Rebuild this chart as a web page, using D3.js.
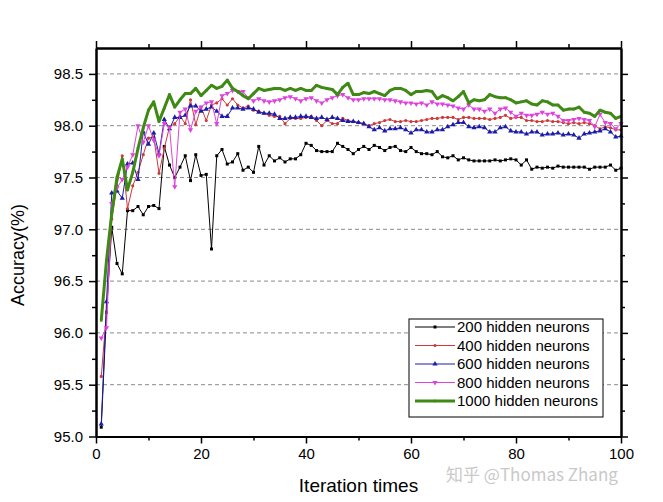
<!DOCTYPE html>
<html>
<head>
<meta charset="utf-8">
<script src="https://cdn.jsdelivr.net/npm/d3@7"></script>
<style>
  body { margin: 0; background: #fff; }
  text { font-family: Arial, "Liberation Sans", sans-serif; }
</style>
</head>
<body>
<div id="chart"></div>
<script>
// iteration index 1..100
const iterations = d3.range(1, 101);

const acc200 = [
  95.09, 96.20, 97.02, 96.67, 96.57, 97.18, 97.18, 97.22, 97.14, 97.22,
  97.23, 97.20, 97.80, 97.62, 97.50, 97.60, 97.71, 97.47, 97.72, 97.52,
  97.53, 96.81, 97.71, 97.77, 97.63, 97.65, 97.73, 97.57, 97.60, 97.55,
  97.80, 97.62, 97.71, 97.66, 97.69, 97.65, 97.68, 97.68, 97.72, 97.83,
  97.81, 97.76, 97.75, 97.75, 97.75, 97.83, 97.80, 97.77, 97.73, 97.77,
  97.80, 97.77, 97.81, 97.79, 97.76, 97.79, 97.80, 97.76, 97.75, 97.79,
  97.75, 97.73, 97.73, 97.72, 97.75, 97.70, 97.69, 97.71, 97.67, 97.69,
  97.67, 97.66, 97.66, 97.66, 97.66, 97.67, 97.66, 97.67, 97.68, 97.67,
  97.62, 97.67, 97.58, 97.60, 97.59, 97.60, 97.59, 97.61, 97.60, 97.60,
  97.60, 97.60, 97.60, 97.58, 97.60, 97.60, 97.60, 97.62, 97.57, 97.59
];
const acc400 = [
  95.58, 96.20, 97.10, 97.42, 97.71, 97.20, 97.42, 97.55, 97.72, 97.88,
  97.89, 97.54, 97.78, 97.99, 98.02, 98.09, 98.02, 98.25, 98.01, 98.18,
  98.05, 98.20, 98.22, 98.26, 98.20, 98.26, 98.20, 98.17, 98.19, 98.15,
  98.14, 98.12, 98.10, 98.09, 98.09, 98.02, 98.07, 98.07, 98.07, 98.08,
  98.09, 98.05, 98.00, 98.05, 98.02, 98.02, 98.07, 98.05, 98.04, 98.03,
  98.02, 98.00, 98.02, 98.03, 98.05, 98.06, 98.04, 98.04, 98.05, 98.04,
  98.04, 98.05, 98.06, 98.07, 98.07, 98.08, 98.08, 98.08, 98.06, 98.08,
  98.08, 98.07, 98.07, 98.07, 98.06, 98.07, 98.08, 98.10, 98.07, 98.08,
  98.08, 98.05, 98.05, 98.04, 98.04, 98.05, 98.04, 98.04, 98.03, 98.02,
  98.03, 98.02, 98.03, 98.02, 98.00, 97.97, 97.99, 97.98, 97.96, 97.96
];
const acc600 = [
  95.12, 96.30, 97.35, 97.37, 97.30, 97.63, 97.64, 97.48, 97.94, 97.82,
  97.93, 97.73, 98.06, 97.97, 98.08, 98.08, 98.10, 98.19, 98.19, 98.14,
  98.16, 98.18, 98.14, 98.09, 98.09, 98.17, 98.17, 98.16, 98.17, 98.16,
  98.13, 98.12, 98.12, 98.11, 98.07, 98.07, 98.08, 98.08, 98.09, 98.09,
  98.08, 98.07, 98.08, 98.06, 98.08, 98.07, 98.05, 98.04, 98.04, 98.03,
  98.02, 97.99, 97.96, 97.98, 97.95, 97.97, 97.97, 97.98, 97.96, 97.93,
  97.96, 97.96, 97.94, 97.94, 97.96, 97.96, 97.99, 98.01, 98.03, 98.03,
  97.99, 97.98, 97.99, 97.98, 97.94, 97.94, 97.98, 97.99, 97.95, 97.94,
  97.94, 97.92, 97.94, 97.94, 97.91, 97.92, 97.92, 97.93, 97.91, 97.92,
  97.91, 97.88, 97.92, 97.93, 97.94, 97.95, 97.97, 97.94, 97.89, 97.90
];
const acc800 = [
  95.95, 96.05, 97.25, 97.40, 97.48, 97.60, 97.72, 98.00, 97.84, 98.00,
  97.86, 97.71, 98.02, 97.98, 97.41, 98.13, 98.16, 97.96, 98.14, 98.18,
  98.22, 98.23, 98.02, 98.29, 98.31, 98.34, 98.33, 98.33, 98.27, 98.24,
  98.26, 98.24, 98.23, 98.24, 98.25, 98.27, 98.28, 98.26, 98.24, 98.26,
  98.27, 98.24, 98.22, 98.25, 98.27, 98.29, 98.30, 98.27, 98.25, 98.25,
  98.26, 98.26, 98.26, 98.26, 98.25, 98.25, 98.24, 98.23, 98.22, 98.22,
  98.21, 98.22, 98.20, 98.23, 98.21, 98.21, 98.20, 98.19, 98.17, 98.16,
  98.20, 98.16, 98.16, 98.14, 98.16, 98.12, 98.16, 98.17, 98.13, 98.09,
  98.12, 98.10, 98.10, 98.11, 98.13, 98.11, 98.12, 98.09, 98.05, 98.05,
  98.06, 98.07, 98.06, 98.05, 97.99, 98.11, 98.03, 98.02, 97.97, 98.02
];
const acc1000 = [
  96.12, 96.70, 97.15, 97.50, 97.68, 97.38, 97.55, 97.78, 97.98, 98.15,
  98.23, 98.04, 98.17, 98.30, 98.18, 98.25, 98.31, 98.31, 98.36, 98.29,
  98.34, 98.39, 98.36, 98.38, 98.44, 98.36, 98.33, 98.29, 98.26, 98.31,
  98.36, 98.34, 98.35, 98.36, 98.36, 98.34, 98.36, 98.34, 98.36, 98.34,
  98.34, 98.39, 98.37, 98.36, 98.35, 98.30, 98.37, 98.41, 98.30, 98.30,
  98.32, 98.31, 98.33, 98.31, 98.29, 98.34, 98.36, 98.36, 98.34, 98.30,
  98.33, 98.33, 98.34, 98.33, 98.26, 98.29, 98.27, 98.24, 98.28, 98.33,
  98.22, 98.25, 98.24, 98.25, 98.30, 98.28, 98.27, 98.27, 98.25, 98.22,
  98.23, 98.24, 98.21, 98.20, 98.24, 98.23, 98.20, 98.20, 98.15, 98.16,
  98.16, 98.18, 98.13, 98.12, 98.09, 98.15, 98.13, 98.12, 98.07, 98.09
];

const seriesNames = ['200 hidden neurons', '400 hidden neurons', '600 hidden neurons',
  '800 hidden neurons', '1000 hidden neurons'];
const seriesValues = [acc200, acc400, acc600, acc800, acc1000];

const xMajorTicks = [0, 20, 40, 60, 80, 100];
const xMinorTicks = [10, 30, 50, 70, 90];
const yMajorTicks = [95.0, 95.5, 96.0, 96.5, 97.0, 97.5, 98.0, 98.5];
const yMinorTicks = [95.25, 95.75, 96.25, 96.75, 97.25, 97.75, 98.25];

// look of each series
const colors = ['#000000', '#cc3a3a', '#1c1ca8', '#dd44dd', '#3f8a14'];
const widths = [1, 1, 1, 1, 3];
const markers = [d3.symbolSquare, d3.symbolCircle, d3.symbolTriangle, d3.symbolTriangle, d3.symbolSquare];
const markerSizes = [9, 8, 12, 12, 6];
const markerRotate = [0, 0, 0, 180, 0];

let margin = { top: 48, left: 96, right: 42, bottom: 66 };
let width = 663 - margin.left - margin.right;
let height = 436.5 - margin.top;

const svg = d3.select('#chart')
  .append('svg')
  .attr('width', 663)
  .attr('height', 502);

const g = svg.append('g')
  .attr('transform', 'translate(' + margin.left + ',' + margin.top + ')');

const xScale = d3.scaleLinear().domain([0, 100]).range([0, width]);
const yScale = d3.scaleLinear().domain([95, 98.75]).range([height, 0]);

// dashed grid lines
g.append('g')
  .selectAll('line')
  .data(yMajorTicks.filter(v => v > 95))
  .enter()
  .append('line')
  .attr('x1', 0)
  .attr('x2', width)
  .attr('y1', d => yScale(d))
  .attr('y2', d => yScale(d))
  .attr('stroke', '#8a8a8a')
  .attr('stroke-width', 1)
  .attr('stroke-dasharray', '4,3');

// series
const line = d3.line()
  .x((d, i) => xScale(iterations[i]))
  .y(d => yScale(d));

seriesValues.forEach((vals, s) => {
  g.append('path')
    .datum(vals)
    .attr('fill', 'none')
    .attr('stroke', colors[s])
    .attr('stroke-width', widths[s])
    .attr('stroke-linejoin', 'round')
    .attr('d', line);

  g.append('g')
    .selectAll('path')
    .data(vals)
    .enter()
    .append('path')
    .attr('d', d3.symbol().type(markers[s]).size(markerSizes[s]))
    .attr('transform', (d, i) => 'translate(' + xScale(iterations[i]) + ',' + yScale(d) + ') rotate(' + markerRotate[s] + ')')
    .attr('fill', colors[s]);
});

// axes
function styleAxis(sel) {
  sel.selectAll('.domain').attr('stroke', '#000').attr('stroke-width', 2);
  sel.selectAll('.tick line').attr('stroke', '#000').attr('stroke-width', 1.5);
  sel.selectAll('.tick text').attr('fill', '#000').style('font-size', '15px');
}

g.append('g')
  .attr('transform', `translate(0, ${height})`)
  .call(d3.axisBottom(xScale).tickValues(xMajorTicks).tickSize(7).tickSizeOuter(0).tickPadding(5))
  .call(styleAxis);
g.append('g')
  .attr('transform', `translate(0, ${height})`)
  .call(d3.axisBottom(xScale).tickValues(xMinorTicks).tickSize(4).tickFormat('').tickSizeOuter(0))
  .call(styleAxis);
g.append('g')
  .call(d3.axisTop(xScale).tickValues(xMajorTicks).tickSize(7).tickFormat('').tickSizeOuter(0))
  .call(styleAxis);
g.append('g')
  .call(d3.axisTop(xScale).tickValues(xMinorTicks).tickSize(4).tickFormat('').tickSizeOuter(0))
  .call(styleAxis);

g.append('g')
  .call(d3.axisLeft(yScale).tickValues(yMajorTicks).tickSize(7).tickFormat(d3.format('.1f')).tickSizeOuter(0).tickPadding(6))
  .call(styleAxis);
g.append('g')
  .call(d3.axisLeft(yScale).tickValues(yMinorTicks).tickSize(4).tickFormat('').tickSizeOuter(0))
  .call(styleAxis);
g.append('g')
  .attr('transform', `translate(${width}, 0)`)
  .call(d3.axisRight(yScale).tickValues(yMajorTicks).tickSize(7).tickFormat('').tickSizeOuter(0))
  .call(styleAxis);
g.append('g')
  .attr('transform', `translate(${width}, 0)`)
  .call(d3.axisRight(yScale).tickValues(yMinorTicks).tickSize(4).tickFormat('').tickSizeOuter(0))
  .call(styleAxis);

// axis titles
svg.append('text')
  .attr('x', margin.left + width / 2)
  .attr('y', 492)
  .style('text-anchor', 'middle')
  .style('font-size', '19px')
  .text('Iteration times');

svg.append('text')
  .attr('transform', 'translate(24, 255) rotate(-90)')
  .style('text-anchor', 'middle')
  .style('font-size', '18px')
  .text('Accuracy(%)');

// legend
const legend = svg.append('g').attr('transform', 'translate(409, 319)');
legend.append('rect')
  .attr('width', 194)
  .attr('height', 98)
  .attr('fill', '#fff')
  .attr('stroke', '#000')
  .attr('stroke-width', 1);

const items = legend.selectAll('.item')
  .data(seriesNames)
  .enter()
  .append('g')
  .attr('class', 'item')
  .attr('transform', (d, i) => `translate(0, ${8 + i * 18.5})`);

items.append('line')
  .attr('x1', 6).attr('x2', 46)
  .attr('stroke', (d, i) => colors[i])
  .attr('stroke-width', (d, i) => widths[i]);
items.append('path')
  .attr('d', (d, i) => d3.symbol().type(markers[i]).size(markerSizes[i])())
  .attr('transform', (d, i) => `translate(26, 0) rotate(${markerRotate[i]})`)
  .attr('fill', (d, i) => colors[i]);
items.append('text')
  .attr('x', 48)
  .attr('dy', '0.35em')
  .style('font-size', '15px')
  .text(d => d);

// watermark
svg.append('text')
  .attr('x', 446)
  .attr('y', 481)
  .style('font-size', '17px')
  .style('font-family', '"Noto Sans CJK SC", Arial, sans-serif')
  .attr('fill', '#c9c9c9')
  .text('知乎 @Thomas Zhang');
</script>
</body>
</html>
